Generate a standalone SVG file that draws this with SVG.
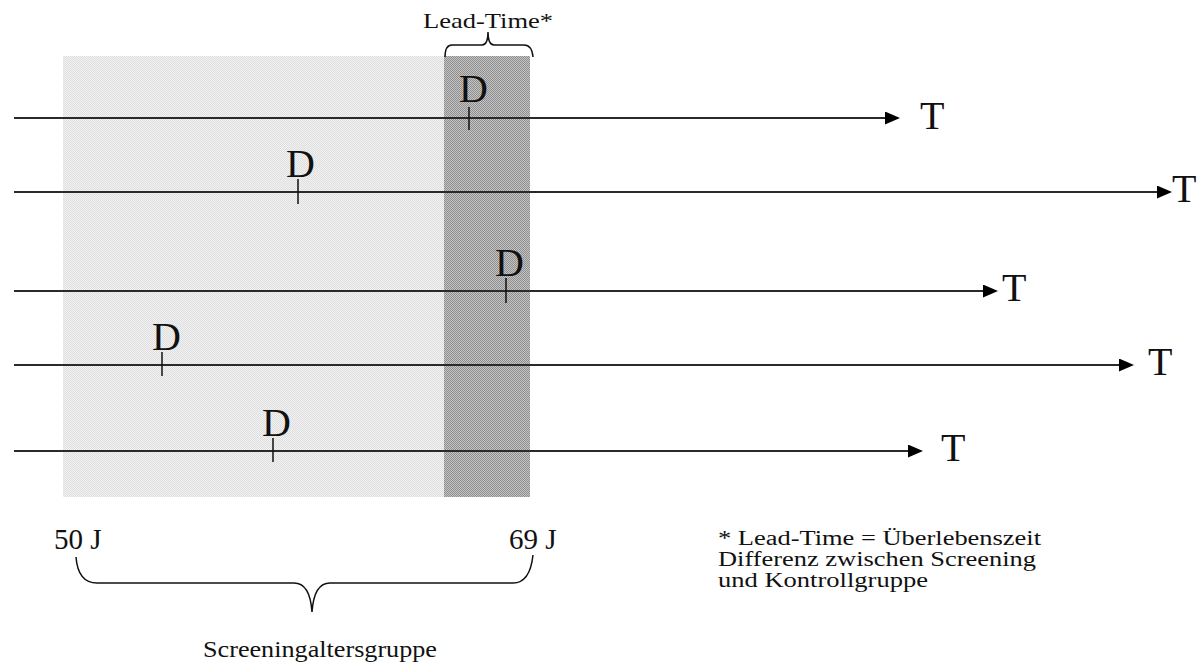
<svg xmlns="http://www.w3.org/2000/svg" width="1200" height="663" viewBox="0 0 1200 663">
  <style>
    .serif { font-family: "Liberation Serif", "Times New Roman", serif; fill: #111; }
    .lbl { font-size: 40px; }
    .axis { stroke: #2a2a2a; stroke-width: 2; fill: none; }
    .tick { stroke: #111; stroke-width: 1.5; }
    .brace { stroke: #111; stroke-width: 1.5; fill: none; }
  </style>
  <defs>
    <pattern id="pLight" width="2" height="2" patternUnits="userSpaceOnUse">
      <rect width="2" height="2" fill="#f2f2f2"/>
      <rect width="1" height="1" fill="#dedede"/>
      <rect x="1" y="1" width="1" height="1" fill="#dedede"/>
    </pattern>
    <pattern id="pDark" width="2" height="2" patternUnits="userSpaceOnUse">
      <rect width="2" height="2" fill="#c4c4c4"/>
      <rect width="1" height="1" fill="#8e8e8e"/>
      <rect x="1" y="1" width="1" height="1" fill="#8e8e8e"/>
    </pattern>
    <marker id="arr" markerUnits="userSpaceOnUse" markerWidth="16" markerHeight="14" refX="0" refY="6.5" orient="auto">
      <path d="M0,0 L15,6.5 L0,13 Z" fill="#000"/>
    </marker>
  </defs>

  <g id="background">
    <rect id="screening-zone" x="63" y="56" width="381" height="441" fill="url(#pLight)"/>
    <rect id="lead-time-zone" x="444" y="56" width="86" height="441" fill="url(#pDark)"/>
  </g>

  <g id="connectors">
    <line class="axis" x1="14" y1="118" x2="885" y2="118" marker-end="url(#arr)"/>
    <line class="axis" x1="14" y1="192" x2="1157" y2="192" marker-end="url(#arr)"/>
    <line class="axis" x1="14" y1="291" x2="983" y2="291" marker-end="url(#arr)"/>
    <line class="axis" x1="14" y1="365" x2="1119" y2="365" marker-end="url(#arr)"/>
    <line class="axis" x1="14" y1="451" x2="908" y2="451" marker-end="url(#arr)"/>
  </g>

  <g id="row1">
    <line class="tick" x1="469" y1="107" x2="469" y2="130"/>
    <text class="serif lbl" x="459" y="102">D</text>
    <text class="serif lbl" x="920" y="129">T</text>
  </g>
  <g id="row2">
    <line class="tick" x1="298" y1="179" x2="298" y2="204"/>
    <text class="serif lbl" x="286" y="177">D</text>
    <text class="serif lbl" x="1172" y="202">T</text>
  </g>
  <g id="row3">
    <line class="tick" x1="506" y1="278" x2="506" y2="303"/>
    <text class="serif lbl" x="495" y="276">D</text>
    <text class="serif lbl" x="1002" y="301">T</text>
  </g>
  <g id="row4">
    <line class="tick" x1="162" y1="352" x2="162" y2="376"/>
    <text class="serif lbl" x="152" y="350">D</text>
    <text class="serif lbl" x="1148" y="375">T</text>
  </g>
  <g id="row5">
    <line class="tick" x1="273" y1="438" x2="273" y2="462"/>
    <text class="serif lbl" x="262" y="436">D</text>
    <text class="serif lbl" x="941" y="461">T</text>
  </g>

  <g id="lead-time-label">
    <path class="brace" d="M445,57 Q445,45 452,45 L482,45 Q488,45 488,32 Q488,45 494,45 L524,45 Q532,45 533,57"/>
    <text class="serif" x="423" y="28" font-size="22" textLength="130" lengthAdjust="spacingAndGlyphs">Lead-Time*</text>
  </g>

  <g id="age-range">
    <text class="serif" x="54" y="549" font-size="29">50 J</text>
    <text class="serif" x="509" y="549" font-size="29">69 J</text>
    <path class="brace" d="M76,557 Q78,583 97,583 L294,583 Q310,583 312,612 Q314,583 330,583 L513,583 Q530,583 533,555"/>
    <text class="serif" x="203" y="657" font-size="24" textLength="234" lengthAdjust="spacingAndGlyphs">Screeningaltersgruppe</text>
  </g>

  <g id="footnote">
    <text class="serif" x="718" y="545" font-size="20" textLength="323" lengthAdjust="spacingAndGlyphs">* Lead-Time = Überlebenszeit</text>
    <text class="serif" x="718" y="566" font-size="20" textLength="318" lengthAdjust="spacingAndGlyphs">Differenz zwischen Screening</text>
    <text class="serif" x="718" y="587" font-size="20" textLength="210" lengthAdjust="spacingAndGlyphs">und Kontrollgruppe</text>
  </g>
</svg>
